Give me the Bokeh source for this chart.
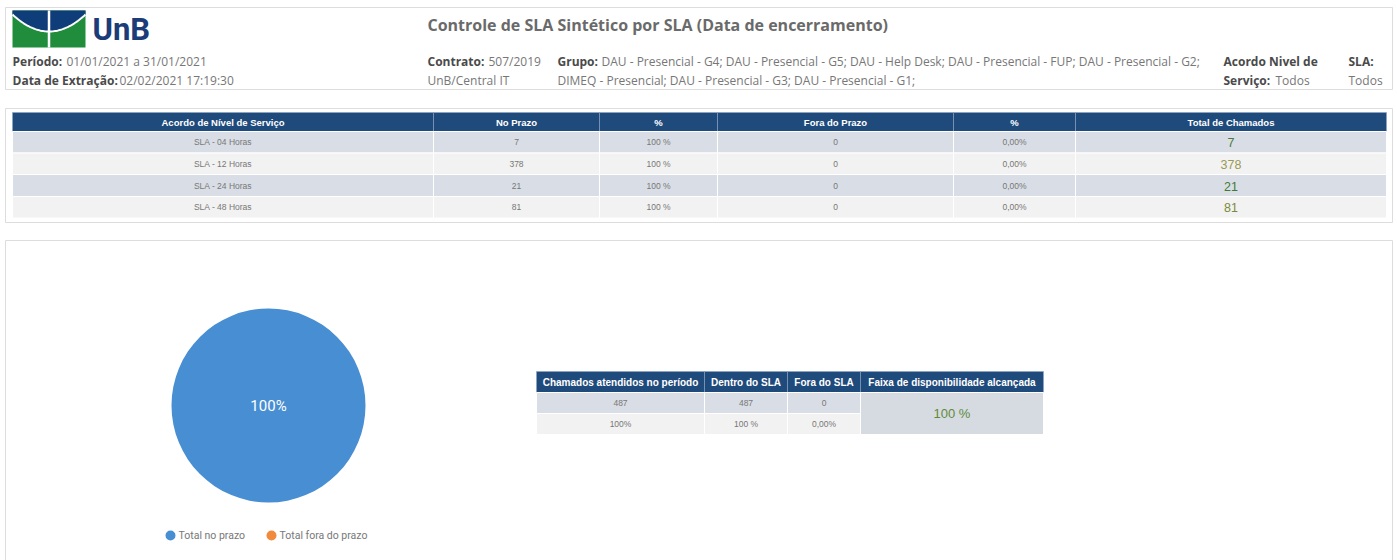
import numpy as np
from bokeh.plotting import figure
from bokeh.models import Range1d, ColumnDataSource, CDSView, BooleanFilter
from bokeh.core.properties import value
from bokeh.embed import file_html
from bokeh.resources import INLINE

# ---------------- data ----------------
report_title = "Controle de SLA Sintético por SLA (Data de encerramento)"
periodo = "01/01/2021 a 31/01/2021"
extracao = "02/02/2021 17:19:30"
contrato = ["507/2019", "UnB/Central IT"]
grupo = ["DAU - Presencial - G4; DAU - Presencial - G5; DAU - Help Desk; DAU - Presencial - FUP; DAU - Presencial - G2;",
         "DIMEQ - Presencial; DAU - Presencial - G3; DAU - Presencial - G1;"]
acordo = "Todos"
sla_filter = "Todos"

col_headers = ["Acordo de Nível de Serviço", "No Prazo", "%", "Fora do Prazo", "%", "Total de Chamados"]
sla_names = ["SLA - 04 Horas", "SLA - 12 Horas", "SLA - 24 Horas", "SLA - 48 Horas"]
no_prazo = [7, 378, 21, 81]
pct_no_prazo = ["100 %", "100 %", "100 %", "100 %"]
fora_prazo = [0, 0, 0, 0]
pct_fora_prazo = ["0,00%", "0,00%", "0,00%", "0,00%"]
total_chamados = [7, 378, 21, 81]

sum_headers = ["Chamados atendidos no período", "Dentro do SLA", "Fora do SLA", "Faixa de disponibilidade alcançada"]
sum_counts = ["487", "487", "0"]
sum_pcts = ["100%", "100 %", "0,00%"]
faixa = "100 %"

pie_labels = ["Total no prazo", "Total fora do prazo"]
pie_values = [487, 0]
pie_center_label = "100%"

# ---------------- styles / layout ----------------
W, H = 1397, 560
HEAD_BLUE = "#1f4a7c"
ROW_A = "#d9dee6"
ROW_B = "#f2f2f2"
TXT = "#777777"
TFONT = "'Liberation Sans', Arial, sans-serif"
total_colors = ["#4a7a3a", "#9a9a55", "#3f7a35", "#7b8a3a"]
pie_colors = ["#488ed2", "#f08a3c"]

p = figure(width=W, height=H, x_range=Range1d(0, W), y_range=Range1d(H, 0),
           output_backend="svg", toolbar_location=None, min_border=0,
           x_axis_type=None, y_axis_type=None)
p.grid.visible = False
p.outline_line_color = None
p.background_fill_color = "white"
p.border_fill_color = "white"


def txt(x, y, t, font="Open Sans", size="12px", color=TXT, style="normal", align="left"):
    p.text(x=[x], y=[y], text=[t], text_font=value(font), text_font_size=size,
           text_color=color, text_font_style=style, text_align=align, text_baseline="middle")


# ---- panels
p.quad(left=[5, 5, 5], right=[1392, 1392, 1392], top=[7, 108, 240], bottom=[89, 222, 600],
       fill_color=None, line_color="#dddddd", line_width=1)

# ---- logo
lx0, lx1, ly0, ly1 = 12, 85, 10, 47
mid = (lx0 + lx1) / 2
p.quad(left=[lx0], right=[lx1], top=[ly0], bottom=[ly1], fill_color="#1f8d3c", line_color=None)
cx = np.linspace(lx0, lx1, 60)
cy = 14 + 17 * (1 - ((cx - mid) / (mid - lx0)) ** 2)
p.patch(x=np.concatenate([[lx0], cx, [lx1]]), y=np.concatenate([[ly0], cy, [ly0]]),
        fill_color="#0e3d7a", line_color=None)
p.line(cx, cy, line_color="white", line_width=2)
p.segment(x0=[mid], x1=[mid], y0=[ly0], y1=[ly1], line_color="white", line_width=2.5)
txt(92, 29, "UnB", font="Roboto", size="31px", color="#1b3c78", style="bold")

# ---- header texts
LAB = "#4a4a4a"
txt(12, 61, "Período:", color=LAB, style="bold")
txt(66, 61, periodo)
txt(12, 80, "Data de Extração:", color=LAB, style="bold")
txt(119, 80, extracao)
txt(427, 24, report_title, size="16px", color="#6a6a6a", style="bold")
txt(427, 61, "Contrato:", color=LAB, style="bold")
txt(488, 61, contrato[0])
txt(427, 80, contrato[1])
txt(557, 61, "Grupo:", color=LAB, style="bold")
txt(601, 61, grupo[0])
txt(557, 80, grupo[1])
txt(1223, 61, "Acordo Nivel de", color=LAB, style="bold")
txt(1223, 80, "Serviço:", color=LAB, style="bold")
txt(1275, 80, acordo)
txt(1348, 61, "SLA:", color=LAB, style="bold")
txt(1348, 80, sla_filter)

# ---- main table
edges = [12, 433, 599, 717, 953, 1075, 1386]
row_edges = [112, 131, 152.5, 174, 196, 217.5]
lefts = edges[:-1]
rights = edges[1:]
centers = [(a + b) / 2 for a, b in zip(lefts, rights)]
p.quad(left=lefts, right=rights, top=[row_edges[0]] * 6, bottom=[row_edges[1]] * 6,
       fill_color=HEAD_BLUE, line_color="#8fa3bf", line_width=0.6)
p.text(x=centers, y=[(row_edges[0] + row_edges[1]) / 2] * 6, text=col_headers,
       text_font=value(TFONT), text_font_size="9.5px", text_font_style="bold",
       text_color="white", text_align="center", text_baseline="middle")

cell_l, cell_r, cell_t, cell_b, cell_c = [], [], [], [], []
tx, ty, tt = [], [], []
for i in range(len(sla_names)):
    t, b = row_edges[i + 1], row_edges[i + 2]
    for j in range(6):
        cell_l.append(lefts[j]); cell_r.append(rights[j])
        cell_t.append(t); cell_b.append(b)
        cell_c.append(ROW_A if i % 2 == 0 else ROW_B)
    vals = [sla_names[i], str(no_prazo[i]), pct_no_prazo[i], str(fora_prazo[i]), pct_fora_prazo[i]]
    for j, v in enumerate(vals):
        tx.append(centers[j]); ty.append((t + b) / 2); tt.append(v)
p.quad(left=cell_l, right=cell_r, top=cell_t, bottom=cell_b, fill_color=cell_c,
       line_color="white", line_width=1)
p.text(x=tx, y=ty, text=tt, text_font=value(TFONT), text_font_size="8.5px",
       text_color=TXT, text_align="center", text_baseline="middle")
tot_src = ColumnDataSource(dict(
    x=[centers[5]] * len(total_chamados),
    y=[(row_edges[i + 1] + row_edges[i + 2]) / 2 + 0.5 for i in range(len(total_chamados))],
    text=[str(v) for v in total_chamados], color=total_colors))
p.text(x="x", y="y", text="text", text_color="color", source=tot_src,
       text_font=value(TFONT), text_font_size="12.5px", text_align="center", text_baseline="middle")

# ---- pie
pc_x, pc_y, pr = 268, 405, 97
vals = np.array(pie_values, dtype=float)
ang = vals / vals.sum() * 2 * np.pi
ends = np.cumsum(ang)
starts = ends - ang
pie_src = ColumnDataSource(dict(start=starts, end=ends, color=pie_colors, label=pie_labels))
pie_view = CDSView(filter=BooleanFilter([v > 0 for v in pie_values]))
p.wedge(x=pc_x, y=pc_y, radius=pr, start_angle="start", end_angle="end",
        fill_color="color", line_color=None, source=pie_src, view=pie_view)
txt(pc_x, pc_y, pie_center_label, font="Roboto", size="15px", color="white", align="center")

# legend
leg_x = [170, 271]
p.scatter(x=leg_x, y=[535, 535], size=10, marker="circle", fill_color=pie_colors, line_color=None)
p.text(x=[x + 8 for x in leg_x], y=[535, 535], text=pie_labels, text_font=value("Roboto"),
       text_font_size="10.5px", text_color="#777777", text_baseline="middle")

# ---- summary table
s_edges = [536, 704, 787, 860, 1043]
s_rows = [371, 392, 413, 434]
s_l, s_r = s_edges[:-1], s_edges[1:]
s_c = [(a + b) / 2 for a, b in zip(s_l, s_r)]
p.quad(left=s_l, right=s_r, top=[s_rows[0]] * 4, bottom=[s_rows[1]] * 4,
       fill_color=HEAD_BLUE, line_color="#8fa3bf", line_width=0.6)
p.text(x=s_c, y=[(s_rows[0] + s_rows[1]) / 2] * 4, text=sum_headers,
       text_font=value(TFONT), text_font_size="10px", text_font_style="bold",
       text_color="white", text_align="center", text_baseline="middle")
p.quad(left=s_l[:3] * 2, right=s_r[:3] * 2, top=[s_rows[1]] * 3 + [s_rows[2]] * 3,
       bottom=[s_rows[2]] * 3 + [s_rows[3]] * 3, fill_color=[ROW_A] * 3 + [ROW_B] * 3,
       line_color="white", line_width=1)
p.quad(left=[s_l[3]], right=[s_r[3]], top=[s_rows[1]], bottom=[s_rows[3]],
       fill_color="#d6dbe1", line_color="white", line_width=1)
p.text(x=s_c[:3] * 2, y=[(s_rows[1] + s_rows[2]) / 2] * 3 + [(s_rows[2] + s_rows[3]) / 2] * 3,
       text=sum_counts + sum_pcts, text_font=value(TFONT), text_font_size="8.5px",
       text_color=TXT, text_align="center", text_baseline="middle")
txt(s_c[3], (s_rows[1] + s_rows[3]) / 2, faixa, font=TFONT, size="13px",
    color="#5f8a3a", align="center")

open("out.html", "w").write(file_html(p, INLINE))
